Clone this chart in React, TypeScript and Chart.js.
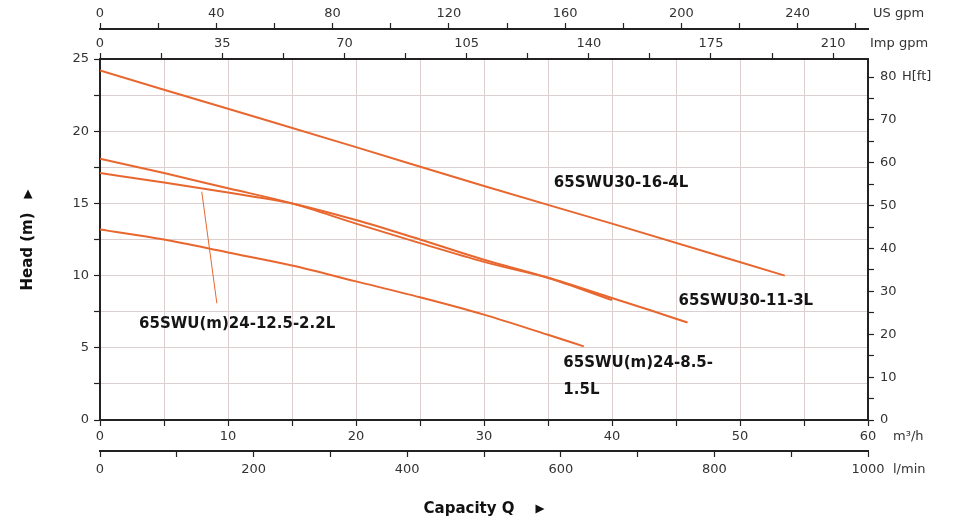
import { useEffect, useRef } from 'react';
import { Chart, registerables } from 'chart.js';

Chart.register(...registerables);

const FONT = '"DejaVu Sans", "Open Sans", sans-serif';
const LINE_COLOR = '#e8672f';
const GRID_COLOR = '#dccfcf';
const AXIS_COLOR = '#222222';
const TICK_TEXT = '#333333';

// ---- data (flow in m³/h, head in m) ----
const flow16_4 = [0, 10, 20, 30, 40, 53.5];
const head16_4 = [24.2, 21.55, 18.9, 16.2, 13.6, 10.0];

const flow11_3 = [0, 5, 10, 15, 20, 25, 30, 35, 40, 43, 45.9];
const head11_3 = [18.1, 17.1, 16.05, 15.0, 13.6, 12.25, 10.95, 9.85, 8.45, 7.6, 6.75];

const flow12_5 = [0, 5, 10, 15, 20, 25, 30, 35, 40];
const head12_5 = [17.1, 16.45, 15.75, 15.0, 13.85, 12.5, 11.1, 9.85, 8.3];

const flow8_5 = [0, 5, 10, 15, 20, 25, 30, 35, 37.8];
const head8_5 = [13.2, 12.5, 11.6, 10.7, 9.6, 8.5, 7.3, 5.9, 5.1];

// leader line for the 12.5-2.2L label
const leaderFlow = [7.95, 9.13];
const leaderHead = [15.81, 8.08];

// axis ranges
const flowMax = 60; // m³/h
const headMax = 25; // m
const lminMax = 1000;
const usGpmMax = 264.17;
const impGpmMax = 219.97;
const ftMax = 84.2;

// curve labels, anchored in data units (left, middle)
const curveLabels = [
  { text: '65SWU30-16-4L', x: 35.45, y: 16.41 },
  { text: '65SWU30-11-3L', x: 45.2, y: 8.24 },
  { text: '65SWU(m)24-8.5-', x: 36.2, y: 3.95 },
  { text: '1.5L', x: 36.2, y: 2.08 },
  { text: '65SWU(m)24-12.5-2.2L', x: 3.05, y: 6.65 },
];

const toPts = (xs: number[], ys: number[]) => xs.map((x, i) => ({ x, y: ys[i] }));

const tickFont = { family: FONT, size: 13 };

function makeCallback(every: number) {
  return (v: any) => {
    const n = Number(v);
    const r = Math.round((n / every) * 1000) / 1000;
    return Math.abs(r - Math.round(r)) < 1e-6 ? String(Math.round(n * 100) / 100) : '';
  };
}

function secAxis(position: string, max: number, step: number, labelEvery: number, weight: number, size: number, padding: number) {
  const horizontal = position === 'top' || position === 'bottom';
  return {
    type: 'linear',
    position,
    min: 0,
    max,
    weight,
    ticks: {
      stepSize: step,
      autoSkip: false,
      includeBounds: false,
      maxRotation: 0,
      padding,
      color: TICK_TEXT,
      font: tickFont,
      callback: makeCallback(labelEvery),
    },
    grid: {
      drawOnChartArea: false,
      drawTicks: true,
      tickLength: 6,
      tickColor: AXIS_COLOR,
      tickWidth: 1.2,
    },
    border: { display: true, color: AXIS_COLOR, width: 2 },
    afterFit: (s: any) => {
      if (horizontal) s.height = size;
      else s.width = size;
    },
  };
}

const annotPlugin = {
  id: 'annot',
  afterDraw(chart: any) {
    const { ctx, scales } = chart;
    const sx = scales.x;
    const sy = scales.y;
    ctx.save();
    // curve labels
    ctx.fillStyle = '#151515';
    ctx.font = `bold 15px ${FONT}`;
    ctx.textAlign = 'left';
    ctx.textBaseline = 'middle';
    curveLabels.forEach((l) => {
      ctx.fillText(l.text, sx.getPixelForValue(l.x), sy.getPixelForValue(l.y));
    });

    // unit labels
    ctx.font = `13px ${FONT}`;
    ctx.fillStyle = TICK_TEXT;
    ctx.fillText('US gpm', scales.usgpm.right + 5, scales.usgpm.bottom - 15);
    ctx.fillText('Imp gpm', scales.impgpm.right + 2, scales.impgpm.bottom - 15);
    ctx.fillText('H[ft]', scales.yft.left + 34, scales.yft.getPixelForValue(80));
    ctx.fillText('m³/h', sx.right + 25, sx.top + 17);
    ctx.fillText('l/min', scales.lmin.right + 25, scales.lmin.top + 19);

    // axis titles
    ctx.fillStyle = '#111111';
    ctx.font = `bold 15px ${FONT}`;
    const capText = 'Capacity Q';
    const capW = ctx.measureText(capText).width;
    const capCenter = (sx.left + sx.right) / 2;
    const capY = 509;
    const capStart = capCenter - (capW + 30) / 2;
    ctx.fillText(capText, capStart, capY);
    // arrow ►
    const ax = capStart + capW + 21;
    ctx.beginPath();
    ctx.moveTo(ax, capY - 4.5);
    ctx.lineTo(ax + 9, capY);
    ctx.lineTo(ax, capY + 4.5);
    ctx.closePath();
    ctx.fill();

    // Head (m) ▲ rotated
    ctx.save();
    const hText = 'Head (m)';
    const hW = ctx.measureText(hText).width;
    const hCenterY = (sy.top + sy.bottom) / 2;
    ctx.translate(28, hCenterY);
    ctx.rotate(-Math.PI / 2);
    const total = hW + 24;
    const start = -total / 2;
    ctx.fillText(hText, start, 0);
    const tx = start + hW + 14;
    ctx.beginPath();
    ctx.moveTo(tx, -4.5);
    ctx.lineTo(tx + 9, 0);
    ctx.lineTo(tx, 4.5);
    ctx.closePath();
    ctx.fill();
    ctx.restore();

    ctx.restore();
  },
};

export default function App() {
  const ref = useRef<HTMLCanvasElement | null>(null);

  useEffect(() => {
    document.body.style.margin = '0';
    const canvas = ref.current;
    if (!canvas) return;
    const lineDs = (label: string, xs: number[], ys: number[]) => ({
      label,
      data: toPts(xs, ys),
      borderColor: LINE_COLOR,
      backgroundColor: LINE_COLOR,
      borderWidth: 2,
      pointRadius: 0,
      fill: false,
      cubicInterpolationMode: 'monotone',
      xAxisID: 'x',
      yAxisID: 'y',
    });
    const chart = new Chart(canvas, {
      type: 'line',
      data: {
        datasets: [
          lineDs('65SWU30-16-4L', flow16_4, head16_4),
          lineDs('65SWU30-11-3L', flow11_3, head11_3),
          lineDs('65SWU(m)24-12.5-2.2L', flow12_5, head12_5),
          lineDs('65SWU(m)24-8.5-1.5L', flow8_5, head8_5),
          { ...lineDs('leader', leaderFlow, leaderHead), borderWidth: 1, cubicInterpolationMode: 'default' },
        ],
      },
      options: {
        animation: false,
        responsive: true,
        maintainAspectRatio: false,
        layout: { padding: 0 },
        plugins: {
          legend: { display: false },
          tooltip: { enabled: false },
          title: { display: false },
        },
        scales: {
          x: {
            type: 'linear',
            position: 'bottom',
            min: 0,
            max: flowMax,
            weight: 0,
            ticks: {
              stepSize: 5,
              autoSkip: false,
              includeBounds: false,
              maxRotation: 0,
              padding: 3,
              color: TICK_TEXT,
              font: tickFont,
              callback: makeCallback(10),
            },
            grid: {
              color: GRID_COLOR,
              lineWidth: 1,
              drawTicks: true,
              tickLength: 6,
              tickColor: AXIS_COLOR,
              tickWidth: 1.2,
            },
            border: { display: true, color: AXIS_COLOR, width: 2 },
            afterFit: (s: any) => {
              s.height = 31;
            },
          },
          lmin: secAxis('bottom', lminMax, 100, 200, 1, 74, 5),
          impgpm: secAxis('top', impGpmMax, 17.5, 35, 0, 30, 1.5),
          usgpm: secAxis('top', usGpmMax, 20, 40, 1, 29, 1.5),
          y: {
            type: 'linear',
            position: 'left',
            min: 0,
            max: headMax,
            weight: 0,
            ticks: {
              stepSize: 2.5,
              autoSkip: false,
              includeBounds: false,
              padding: 5,
              color: TICK_TEXT,
              font: tickFont,
              callback: makeCallback(5),
            },
            grid: {
              color: GRID_COLOR,
              lineWidth: 1,
              drawTicks: true,
              tickLength: 6,
              tickColor: AXIS_COLOR,
              tickWidth: 1.2,
            },
            border: { display: true, color: AXIS_COLOR, width: 2 },
            afterFit: (s: any) => {
              s.width = 100;
            },
          },
          yft: secAxis('right', ftMax, 5, 10, 0, 91, 6),
        },
      } as any,
      plugins: [annotPlugin],
    } as any);
    return () => chart.destroy();
  }, []);

  return (
    <div style={{ width: 959, height: 525, position: 'relative' }}>
      <canvas ref={ref} />
    </div>
  );
}
